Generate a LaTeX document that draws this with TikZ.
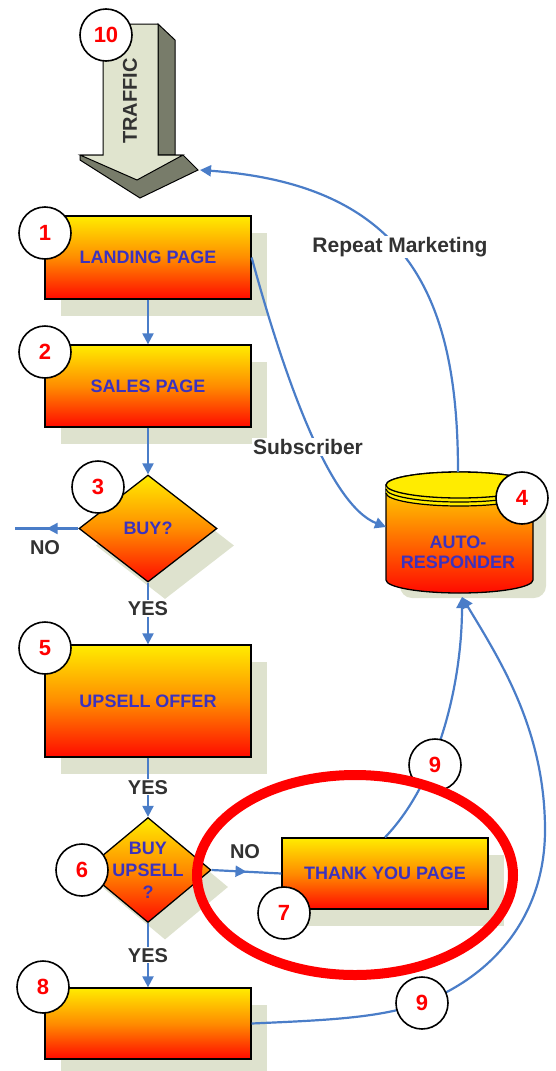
\documentclass[tikz,border=0pt]{standalone}
\usepackage{fontspec}
\setmainfont{Liberation Sans}
\usetikzlibrary{shapes.geometric,arrows.meta,decorations.markings}
\definecolor{linec}{RGB}{74,125,200}
\definecolor{shadowc}{RGB}{222,226,206}
\definecolor{txtc}{RGB}{60,50,190}
\definecolor{lblc}{RGB}{50,50,50}
\definecolor{ylw}{RGB}{255,236,0}
\definecolor{org}{RGB}{255,140,0}
\definecolor{rd}{RGB}{255,10,0}
\definecolor{arrlight}{RGB}{224,228,206}
\definecolor{arrdark}{RGB}{120,124,106}
\pgfdeclarelayer{background}
\pgfsetlayers{background,main}
\begin{document}
\begin{tikzpicture}[x=1pt,y=-1pt,
  boxtxt/.style={text=txtc, font=\fontsize{18}{20}\selectfont\bfseries, inner sep=0pt},
  box/.style={rectangle, draw=black, line width=1.3pt, top color=ylw, bottom color=rd, middle color=org, minimum width=206pt, boxtxt},
  dia/.style={diamond, draw=black, line width=1.3pt, top color=ylw, bottom color=rd, middle color=org, inner sep=0pt},
  num/.style={circle, draw=black, line width=1.6pt, fill=white, minimum size=52pt, inner sep=0pt, text=red, font=\fontsize{22}{22}\selectfont\bfseries},
  lbl/.style={text=lblc, font=\fontsize{21}{24}\selectfont\bfseries, fill=white, inner sep=1pt},
  yn/.style={text=lblc, font=\fontsize{20}{22}\selectfont\bfseries, fill=white, inner sep=1pt},
  conn/.style={draw=linec, line width=2.2pt},
  arr/.style={conn, -{Triangle[length=11pt,width=11pt]}},
  midarr/.style={conn, postaction={decorate}, decoration={markings, mark=at position #1 with {\arrow{Triangle[length=11pt,width=11pt]}}}}
]
\useasboundingbox (0,0) rectangle (556,1071);

% shadows
\begin{pgfonlayer}{background}
\fill[shadowc] (61,233) rectangle (267,316);
\fill[shadowc] (61,362) rectangle (267,444);
\fill[shadowc] (61,662) rectangle (267,774);
\fill[shadowc] (298,855) rectangle (504,926);
\fill[shadowc] (61,1005) rectangle (267,1076);
\node[diamond, fill=shadowc, minimum width=138pt, minimum height=107pt, inner sep=0pt] (buysh) at (165,545.5) {};
\node[diamond, fill=shadowc, minimum width=126pt, minimum height=105pt, inner sep=0pt] (d6sh) at (165,887) {};
\fill[shadowc, rounded corners=12pt] (400,490) rectangle (546,598);
\end{pgfonlayer}

% traffic arrow
\draw[line width=1pt, fill=arrdark] (158,24) -- (175,40) -- (175,155) -- (158,155) -- cycle;
\draw[line width=1pt, fill=arrdark] (80,155) -- (183,155) -- (198,170) -- (140,198) -- (80,160) -- cycle;
\draw[line width=1pt, fill=arrlight] (103,24) -- (158,24) -- (158,155) -- (183,155) -- (137,180) -- (80,155) -- (103,155) -- cycle;
\node[rotate=90, text=lblc, font=\fontsize{20}{22}\selectfont\bfseries] (traffic) at (130,101) {TRAFFIC};
\coordinate (trafficend) at (200,170);

% boxes
\node[box, minimum height=83pt] (landing) at (148,257.5) {LANDING PAGE};
\node[box, minimum height=82pt] (sales) at (148,386) {SALES PAGE};
\node[box, minimum height=112pt] (upsell) at (148,701) {UPSELL OFFER};
\node[box, minimum height=71pt] (ty) at (385,873.5) {THANK YOU PAGE};
\node[box, minimum height=71pt] (box8) at (148,1023.5) {};

% diamonds
\node[dia, minimum width=138pt, minimum height=107pt] (buy) at (148,528.5) {};
\node[boxtxt] (buyt) at (buy.center) {BUY?};
\node[dia, minimum width=126pt, minimum height=105pt] (d6) at (148,870) {};
\node[boxtxt, align=center, font=\fontsize{18}{22}\selectfont\bfseries] (d6t) at (d6.center) {BUY\\UPSELL\\?};

% cylinder
\draw[line width=1.3pt, top color=ylw, middle color=org, bottom color=rd]
  (386,485) -- (386,580) arc[start angle=180, end angle=0, x radius=73.5, y radius=13]
  -- (533,485) arc[start angle=0, end angle=-180, x radius=73.5, y radius=13] -- cycle;
\fill[ylw] (386,485) -- (386,493) arc[start angle=180, end angle=0, x radius=73.5, y radius=13] -- (533,485) -- cycle;
\draw[line width=1.3pt, fill=ylw] (459.5,485) ellipse[x radius=73.5, y radius=13];
\draw[line width=1.2pt] (386,489) arc[start angle=180, end angle=0, x radius=73.5, y radius=13];
\draw[line width=1.2pt] (386,493) arc[start angle=180, end angle=0, x radius=73.5, y radius=13];
\node[boxtxt, align=center] (auto) at (458,552) {AUTO-\\RESPONDER};
\coordinate (autotop) at (458,472);
\coordinate (autoleft) at (386,527);
\coordinate (autobot) at (462,597);
\coordinate (noend) at (15,528.5);

% connectors
\draw[arr] (landing.south) -- (sales.north);
\draw[arr] (sales.south) -- (buy.north);
\draw[midarr=0.5] (buy.west) -- (noend);
\draw[arr] (buy.south) -- node[yn, pos=0.42] (yes1) {YES} (upsell.north);
\draw[arr] (upsell.south) -- node[yn] (yes2) {YES} (d6.north);
\draw[arr] (d6.south) -- node[yn] (yes3) {YES} (box8.north);
\draw[midarr=0.5] (d6.east) -- (ty.west);
\draw[arr] (landing.east) .. controls (285,380) and (330,505) .. (autoleft);
\draw[arr] (autotop) .. controls (458,300) and (410,185) .. (trafficend);
\draw[arr] (ty.north) .. controls (440,780) and (462,680) .. (autobot);
\draw[arr] (box8.east) .. controls (330,1020) and (385,1018) .. (430,1000)
  .. controls (500,970) and (545,910) .. (545,830)
  .. controls (545,730) and (500,660) .. (autobot);

% labels
\node[lbl] (sub) at (308,447) {Subscriber};
\node[lbl] (rep) at (400,247) {Repeat Marketing};
\node[yn] (no1) at (45,548) {NO};
\node[yn] (no2) at (245,852) {NO};

% number circles
\node[num] (c10) at (106,35) {10};
\node[num] (c1) at (45,233) {1};
\node[num] (c2) at (45,352) {2};
\node[num] (c3) at (98,487) {3};
\node[num] (c4) at (522,498) {4};
\node[num] (c5) at (45,648) {5};
\node[num] (c6) at (82,870) {6};
\node[num] (c7) at (284,913) {7};
\node[num] (c8) at (43,987) {8};
\node[num] (c9a) at (435,765) {9};
\node[num] (c9b) at (422,1003) {9};

% highlight
\node[ellipse, draw=red, line width=10pt, minimum width=316pt, minimum height=200pt, inner sep=0pt] (hl) at (355,875) {};
\end{tikzpicture}
\end{document}
